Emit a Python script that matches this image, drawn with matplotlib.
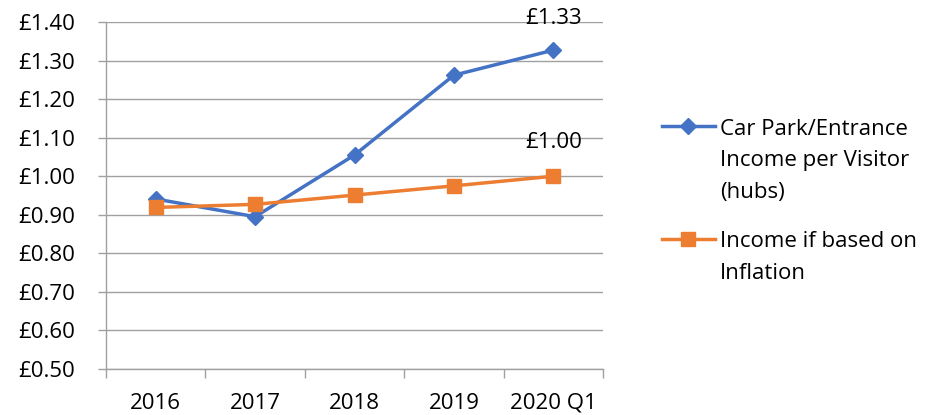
import matplotlib
matplotlib.use("Agg")
import matplotlib.pyplot as plt
from matplotlib.lines import Line2D

plt.rcParams['font.family'] = ['Open Sans', 'DejaVu Sans']

anos = ["2016", "2017", "2018", "2019", "2020 Q1"]
car_park = [0.941, 0.895, 1.055, 1.262, 1.327]
inflacao = [0.919, 0.927, 0.951, 0.975, 1.00]
rotulos_fim = ["£1.33", "£1.00"]

label_car = "Car Park/Entrance\nIncome per Visitor\n(hubs)"
label_inf = "Income if based on\nInflation"

azul = "#4472C4"
laranja = "#ED7D31"
cinza = "#A0A0A0"

fig = plt.figure(figsize=(9.27, 4.15), dpi=100)
ax = fig.add_axes([106 / 927, 1 - 369 / 415, (603 - 106) / 927, (369 - 22) / 415])

x = list(range(len(anos)))
ax.plot(x, car_park, color=azul, lw=2.5, marker='D', ms=8.5, zorder=3)
ax.plot(x, inflacao, color=laranja, lw=2.5, marker='s', ms=10.5, zorder=4)

ax.annotate(rotulos_fim[0], (x[-1], car_park[-1]), xytext=(0, 23),
            textcoords='offset points', ha='center', va='center', fontsize=16)
ax.annotate(rotulos_fim[1], (x[-1], inflacao[-1]), xytext=(0, 24),
            textcoords='offset points', ha='center', va='center', fontsize=16)

ax.set_xlim(-0.5, len(anos) - 0.5)
ax.set_ylim(0.5, 1.4)
ax.set_yticks([0.5 + 0.1 * i for i in range(10)])
ax.set_yticklabels(["£%.2f" % (0.5 + 0.1 * i) for i in range(10)])
ax.set_xticks(x)
ax.set_xticklabels(anos)
ax.set_xticks([i - 0.5 for i in range(len(anos) + 1)], minor=True)

ax.tick_params(axis='x', which='major', length=0, pad=17, labelsize=16)
ax.tick_params(axis='x', which='minor', length=6.2, width=1, color=cinza)
ax.tick_params(axis='y', length=5.5, width=1, color=cinza, pad=16.5, labelsize=16)

ax.grid(axis='y', color=cinza, lw=1)
ax.set_axisbelow(True)
for lado in ['top', 'right']:
    ax.spines[lado].set_visible(False)
for lado in ['left', 'bottom']:
    ax.spines[lado].set_color(cinza)
    ax.spines[lado].set_linewidth(1)

# legenda feita a mao (estilo excel), texto alinhado pela ultima linha
x0, x1, xm = 662 / 927, 715 / 927, 688 / 927
for cor, mk, ms, ylin, ytxt, lab in [(azul, 'D', 8.5, 126, 198, label_car),
                                     (laranja, 's', 10.5, 239, 279, label_inf)]:
    yf = 1 - ylin / 415
    fig.add_artist(Line2D([x0, x1], [yf, yf], transform=fig.transFigure, color=cor, lw=2.5))
    fig.add_artist(Line2D([xm], [yf], transform=fig.transFigure, color=cor, marker=mk, ms=ms))
    fig.text(720 / 927, 1 - ytxt / 415, lab, fontsize=16, va='baseline', ha='left',
             linespacing=1.66)

fig.savefig("out.png", dpi=100)
